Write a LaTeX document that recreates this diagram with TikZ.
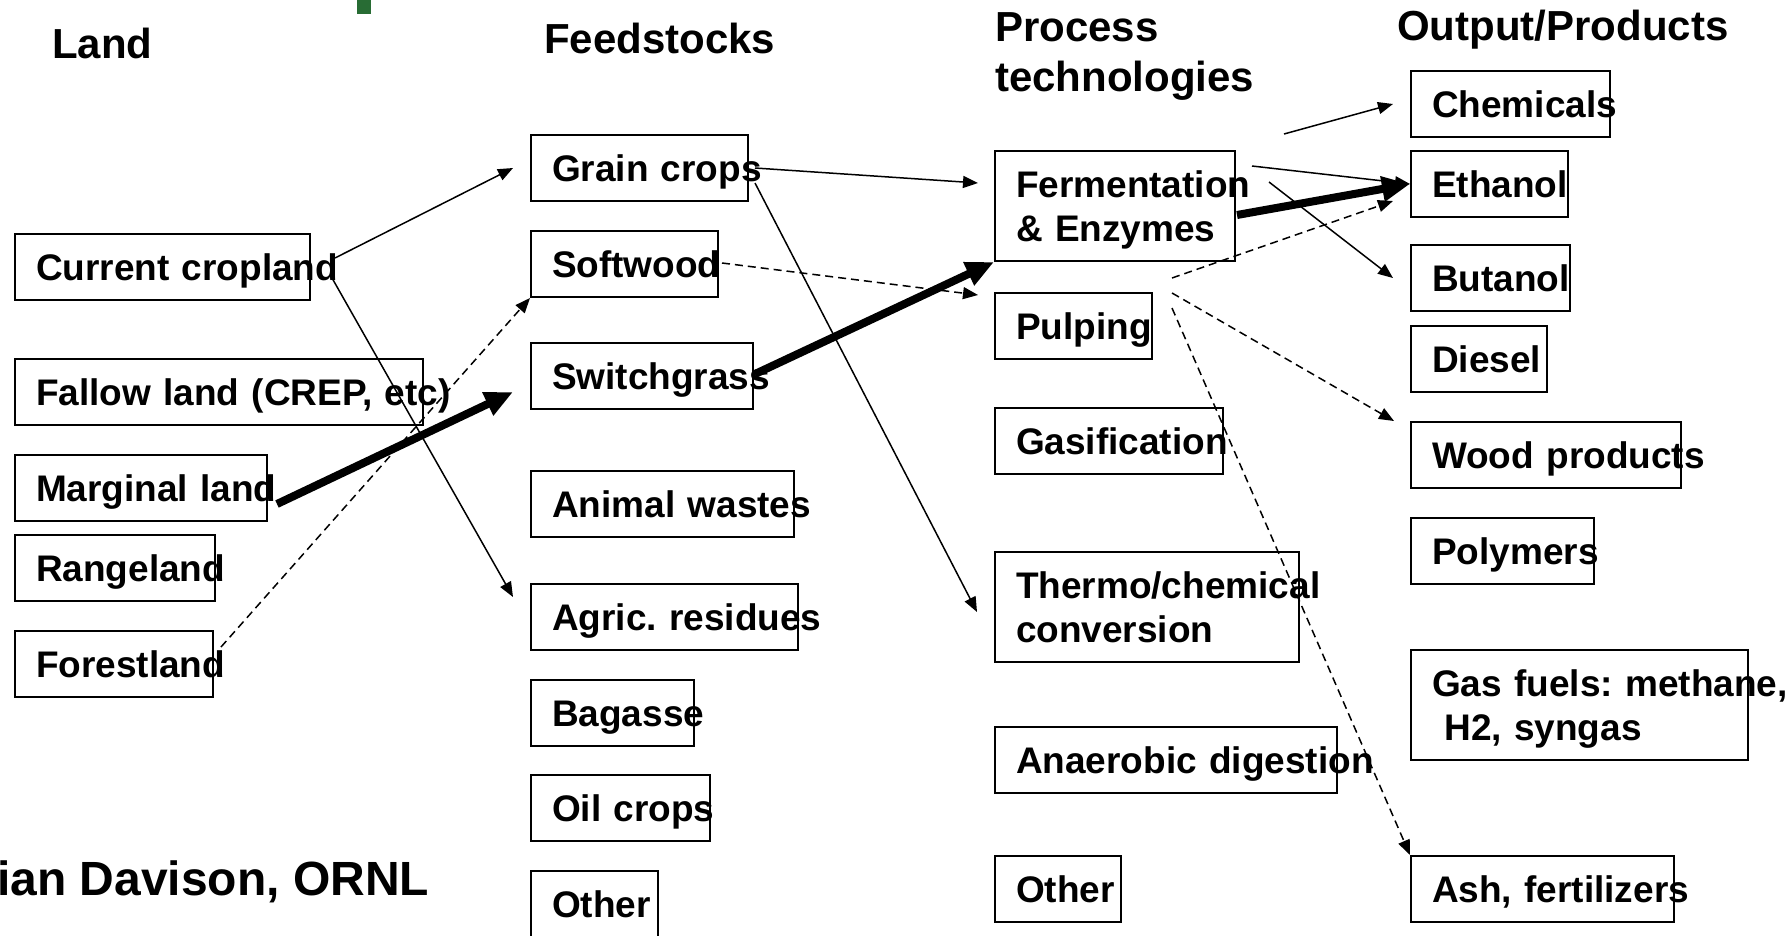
\documentclass[tikz,border=0pt]{standalone}
\usepackage{fontspec}
\setmainfont{Liberation Sans}
\frenchspacing
\usetikzlibrary{arrows.meta,calc}
\definecolor{slidegreen}{RGB}{40,108,52}
\tikzset{
  lbox/.style={draw, line width=2pt, anchor=north west, inner xsep=21pt, inner ysep=0pt,
    text width=#1pt, align=left, minimum height=66pt, text height=26pt, text depth=0pt,
    font=\fontsize{37}{44}\selectfont\bfseries},
  lbox2/.style={lbox=#1, minimum height=110pt, text depth=44pt},
  head/.style={anchor=base west, inner sep=0pt, align=left,
    font=\fontsize{42}{50}\selectfont\bfseries},
  flow/.style={line width=1.5pt, -{Triangle[length=15pt,width=12pt]}},
  dflow/.style={flow, dash pattern=on 8pt off 5pt},
  bigflow/.style={line width=8pt, -{Triangle[length=28pt,width=24pt]}}
}
\begin{document}
\begin{tikzpicture}[x=1pt,y=-1pt]
\useasboundingbox (0,0) rectangle (1788,935);
\fill[slidegreen] (357,0) rectangle (371,14);
% column headings
\node[head] (hland) at (52,58) {Land};
\node[head] (hfeed) at (544,53) {Feedstocks};
\node[head] (hproc) at (995,91) {Process\\technologies};
\node[head] (hout) at (1397,40) {Output/Products};
\node[anchor=base west, inner sep=0pt, font=\fontsize{48}{56}\selectfont\bfseries] (credit) at (-3,895) {ian Davison, ORNL};
% land
\node[lbox=253] (crop) at (14,233) {\mbox{Current cropland}};
\node[lbox=366] (fallow) at (14,358) {\mbox{Fallow land (CREP, etc)}};
\node[lbox=210] (marg) at (14,454) {\mbox{Marginal land}};
\node[lbox=158] (range) at (14,534) {\mbox{Rangeland}};
\node[lbox=156] (forest) at (14,630) {\mbox{Forestland}};
% feedstocks
\node[lbox=175] (grain) at (530,134) {\mbox{Grain crops}};
\node[lbox=145] (soft) at (530,230) {\mbox{Softwood}};
\node[lbox=180] (switch) at (530,342) {\mbox{Switchgrass}};
\node[lbox=221] (animal) at (530,470) {\mbox{Animal wastes}};
\node[lbox=225] (agric) at (530,583) {\mbox{Agric. residues}};
\node[lbox=121] (bagasse) at (530,679) {\mbox{Bagasse}};
\node[lbox=137] (oil) at (530,774) {\mbox{Oil crops}};
\node[lbox=85] (fother) at (530,870) {\mbox{Other}};
% process technologies
\node[lbox2=198] (ferm) at (994,150) {\mbox{Fermentation}\\\mbox{\& Enzymes}};
\node[lbox=115] (pulp) at (994,292) {\mbox{Pulping}};
\node[lbox=186] (gasif) at (994,407) {\mbox{Gasification}};
\node[lbox2=262] (thermo) at (994,551) {\mbox{Thermo/chemical}\\\mbox{conversion}};
\node[lbox=300] (anaer) at (994,726) {\mbox{Anaerobic digestion}};
\node[lbox=84] (pother) at (994,855) {\mbox{Other}};
% outputs
\node[lbox=157] (chem) at (1410,70) {\mbox{Chemicals}};
\node[lbox=115] (eth) at (1410,150) {\mbox{Ethanol}};
\node[lbox=117] (but) at (1410,244) {\mbox{Butanol}};
\node[lbox=94] (diesel) at (1410,325) {\mbox{Diesel}};
\node[lbox=228] (wood) at (1410,421) {\mbox{Wood products}};
\node[lbox=141] (poly) at (1410,517) {\mbox{Polymers}};
\node[lbox2=295] (gas) at (1410,649) {\mbox{Gas fuels: methane,}\\\mbox{\ H2, syngas}};
\node[lbox=221] (ash) at (1410,855) {\mbox{Ash, fertilizers}};
% land to feedstocks
\draw[flow] ($(crop.east)+(24,-9)$) -- ($(grain.west)+(-17,0)$);
\draw[flow] ($(crop.east)+(21,11)$) -- ($(agric.north west)+(-17,14)$);
\draw[bigflow] ($(marg.east)+(9,16)$) -- ($(switch.west)+(-17,16)$);
\draw[dflow] ($(forest.north east)+(7,17)$) -- (soft.south west);
% feedstocks to process
\draw[flow] ($(grain.east)+(6,0)$) -- ($(ferm.north west)+(-16,33)$);
\draw[flow] ($(grain.east)+(6,15)$) -- ($(thermo.west)+(-17,5)$);
\draw[dflow] ($(soft.east)+(3,-1)$) -- ($(pulp.north west)+(-16,3)$);
\draw[bigflow] ($(switch.east)+(1,-2)$) -- (ferm.south west);
% process to outputs
\draw[flow] ($(ferm.north east)+(48,-16)$) -- ($(chem.west)+(-17,0)$);
\draw[flow] ($(ferm.north east)+(16,16)$) -- (eth.west);
\draw[bigflow] ($(ferm.east)+(1,9)$) -- (eth.west);
\draw[flow] ($(ferm.north east)+(33,32)$) -- ($(but.west)+(-17,0)$);
\draw[dflow] ($(pulp.north east)+(19,-14)$) -- ($(eth.west)+(-17,17)$);
\draw[dflow] ($(pulp.north east)+(19,1)$) -- ($(wood.north west)+(-16,0)$);
\draw[dflow] ($(pulp.north east)+(19,16)$) -- (ash.north west);
\end{tikzpicture}
\end{document}
